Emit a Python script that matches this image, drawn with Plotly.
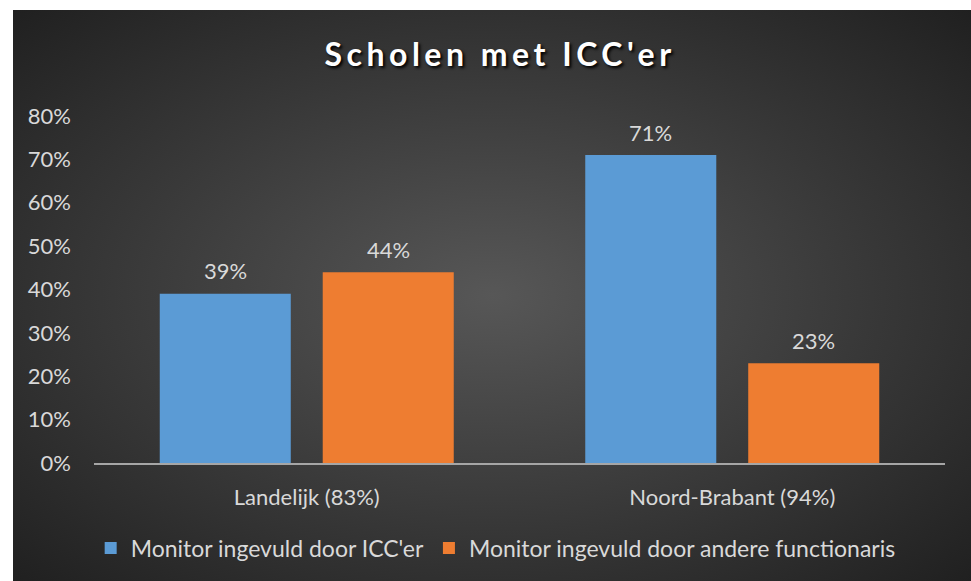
import base64
import plotly.graph_objects as go

# Data
categories = ["Landelijk (83%)", "Noord-Brabant (94%)"]
series_names = ["Monitor ingevuld door ICC'er", "Monitor ingevuld door andere functionaris"]
icc_values = [0.39, 0.71]
other_values = [0.44, 0.23]
y_ticks = [0, 0.1, 0.2, 0.3, 0.4, 0.5, 0.6, 0.7, 0.8]

BLUE = "#5b9bd5"
ORANGE = "#ee7d31"
TEXT = "#d9d9d9"
FONT = "Lato, 'Open Sans', sans-serif"

# radial dark background as an svg image
svg = (
    "<svg xmlns='http://www.w3.org/2000/svg' width='958' height='571' preserveAspectRatio='none'>"
    "<defs><radialGradient id='g' cx='50%' cy='50%' r='72%'>"
    "<stop offset='0' stop-color='#575757'/>"
    "<stop offset='0.55' stop-color='#383838'/>"
    "<stop offset='1' stop-color='#1f1f1f'/>"
    "</radialGradient></defs>"
    "<rect width='100%' height='100%' fill='url(#g)'/></svg>"
)
bg_src = "data:image/svg+xml;base64," + base64.b64encode(svg.encode()).decode()

fig = go.Figure()
fig.add_trace(go.Bar(x=categories, y=icc_values, name=series_names[0],
                     marker=dict(color=BLUE, line=dict(width=0))))
fig.add_trace(go.Bar(x=categories, y=other_values, name=series_names[1],
                     marker=dict(color=ORANGE, line=dict(width=0))))

# value labels above the bars
annotations = []
for vals, shift in [(icc_values, -81.5), (other_values, 81.5)]:
    for cat, v in zip(categories, vals):
        annotations.append(dict(
            x=cat, y=v, xref="x", yref="y", text=f"{v:.0%}", showarrow=False,
            xshift=shift, yshift=23, yanchor="middle",
            font=dict(family=FONT, size=22, color=TEXT),
        ))

# plot area: x 94..945, y 116..463
L, R, T, B = 94, 26, 116, 118
pw, ph = 971 - L - R, 581 - T - B

fig.update_layout(
    width=971,
    height=581,
    margin=dict(l=L, r=R, t=T, b=B, pad=0),
    paper_bgcolor="white",
    plot_bgcolor="rgba(0,0,0,0)",
    barmode="group",
    bargap=0.234,
    bargroupgap=0.196,
    title=dict(
        text="<b>Scholen met ICC'er</b>",
        x=0.515, xref="container", xanchor="center",
        y=1 - 55 / 581, yref="container", yanchor="middle",
        font=dict(family=FONT, size=32, color="white", shadow="2px 2px 3px #000000"),
    ),
    font=dict(family=FONT, size=22, color=TEXT),
    xaxis=dict(
        showgrid=False, zeroline=False,
        showline=True, linecolor="#a6a6a6", linewidth=2,
        ticks="", ticklabelstandoff=14,
        tickfont=dict(family=FONT, size=22, color=TEXT),
    ),
    yaxis=dict(
        range=[0, 0.8], tickvals=y_ticks, tickformat=".0%",
        showgrid=False, zeroline=False, showline=False,
        ticks="", ticklabelstandoff=22,
        tickfont=dict(family=FONT, size=22, color=TEXT),
    ),
    legend=dict(
        orientation="h", x=0.472, xanchor="center",
        y=(463 - 548) / ph, yanchor="middle",
        font=dict(family=FONT, size=23, color=TEXT),
        bgcolor="rgba(0,0,0,0)", itemwidth=30,
    ),
    annotations=annotations,
    images=[dict(
        source=bg_src, xref="paper", yref="paper",
        x=(13 - L) / pw, y=(463 - 10) / ph,
        sizex=(971 - 13) / pw, sizey=(581 - 10) / ph,
        xanchor="left", yanchor="top", sizing="stretch", layer="below",
    )],
    showlegend=True,
    hovermode=False,
)

# no page margin, and spaced-out title letters like the original
post = (
    "document.body.style.margin='0';"
    "var s=document.createElement('style');"
    "s.textContent='.gtitle{letter-spacing:4.5px}';"
    "document.head.appendChild(s);"
)
fig.write_html("out.html", post_script=post, config={"displayModeBar": False})
